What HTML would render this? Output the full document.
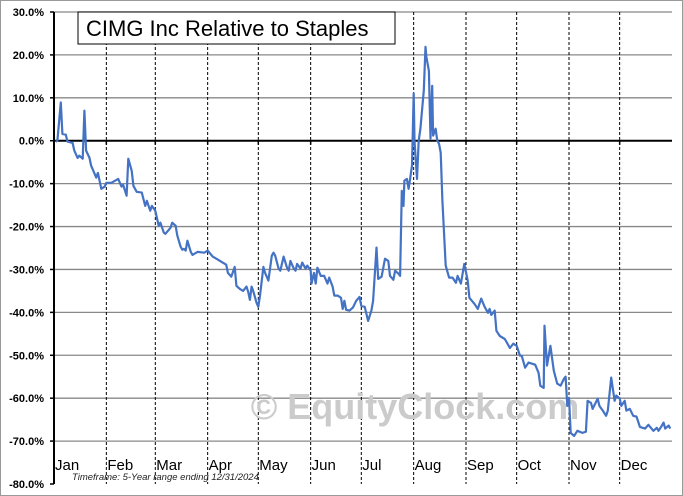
<!DOCTYPE html>
<html><head><meta charset="utf-8"><style>
html,body{margin:0;padding:0;background:#fff}
svg{display:block;font-family:"Liberation Sans",Arial,sans-serif}
</style></head><body>
<svg id="chart" width="683" height="496" viewBox="0 0 683 496" xmlns="http://www.w3.org/2000/svg">
<rect x="0.5" y="0.5" width="682" height="495" fill="#fff" stroke="#999"/>
<g id="grid"></g>
<g id="months"></g>
<text x="415" y="419" font-size="36" font-weight="bold" fill="#cbcbcb" text-anchor="middle">© EquityClock.com</text>
<g id="yaxis"></g>
<path id="line" fill="none" stroke="#4472C4" stroke-width="2.2" stroke-linejoin="round"/>
<rect x="78" y="12" width="317" height="32" fill="#fff" stroke="#000"/>
<text x="86" y="36" font-size="22" fill="#000">CIMG Inc Relative to Staples</text>
<text x="72" y="480" font-size="9.5" font-style="italic" fill="#222">Timeframe: 5-Year range ending 12/31/2024</text>
</svg>
<script>
const monthLabels=["Jan","Feb","Mar","Apr","May","Jun","Jul","Aug","Sep","Oct","Nov","Dec"];
const monthStartDays=[1,32,61,92,122,153,183,214,245,275,306,336];
const yTicks=[30,20,10,0,-10,-20,-30,-40,-50,-60,-70,-80];
const days=[2,3,5,6,8,9,12,13,15,16,18,19,20,22,23,26,27,29,31,32,35,39,41,42,44,45,47,48,50,53,55,56,58,59,61,63,64,66,67,70,71,73,74,76,77,78,79,80,82,83,86,90,92,95,98,100,103,104,106,108,109,111,113,115,116,117,118,119,121,122,123,125,126,128,130,131,132,134,135,137,139,140,141,143,144,145,147,148,150,151,153,153.5,155,156,157,159,161,163,164,166,167,169,171,172,173,174,176,178,180,182,183,185,187,189,190,192,193,195,197,199,200,202,203,205,206,207,208,208.5,210,211,212,213,214,214.5,216,217,218,220,221,221.5,223,224,225,225.5,227,228,229,230,231,233,235,237,239,240,242,244,246,247,250,252,254,256,258,259,260,262,263,265,268,271,273,275,277,278,280,282,286,288,289,291,291.5,293,295,297,299,301,303,304,305,306,307,309,311,314,316,317,319,320,323,324,326,328,329,331,333,334,336,337,339,340,342,344,346,348,351,353,356,358,359,361,362,363,365,366];
const values=[-0.2,0,8.9,1.6,1.4,-0.2,-0.5,-2.3,-4.0,-3.5,-4.2,7.0,-2.3,-4.0,-5.8,-8.6,-7.5,-11.2,-10.7,-9.8,-9.8,-8.9,-10.7,-10.3,-12.8,-4.2,-7.0,-10.5,-11.9,-12.1,-15.2,-14.0,-16.3,-15.2,-16.3,-19.8,-19.1,-21.4,-21.7,-20.3,-19.1,-19.8,-22.1,-24.7,-25.4,-25.2,-25.6,-23.3,-25.9,-26.6,-25.9,-26.1,-25.6,-27.0,-27.7,-28.2,-28.9,-30.8,-31.7,-29.4,-33.8,-34.5,-35.0,-34.0,-35.2,-37.1,-34.0,-35.0,-37.8,-38.7,-36.1,-29.4,-30.8,-32.6,-26.8,-26.1,-26.8,-29.8,-30.3,-27.0,-29.6,-30.3,-28.0,-29.8,-30.3,-28.7,-29.8,-28.4,-29.8,-29.1,-30.3,-33.3,-30.8,-33.3,-29.6,-31.5,-31.5,-33.3,-31.9,-34.0,-36.1,-36.1,-36.6,-39.2,-37.3,-39.4,-39.6,-38.9,-37.3,-36.4,-38.5,-38.7,-42.0,-39.6,-37.3,-24.9,-32.2,-31.7,-27.5,-28.0,-31.5,-32.4,-30.3,-31.0,-31.5,-11.7,-15.2,-9.3,-8.9,-11.2,-8.6,-5.8,11.0,0,-8.9,0,2.8,11.7,21.9,19.6,16.3,0.5,12.8,1.2,2.8,0,-0.7,-2.8,-14.0,-29.1,-31.9,-31.9,-33.1,-31.5,-33.3,-28.7,-32.6,-36.6,-38.0,-39.2,-36.8,-38.7,-40.1,-39.2,-40.6,-39.6,-44.3,-45.5,-46.2,-48.3,-47.3,-47.8,-50.1,-50.1,-52.9,-51.7,-52.2,-54.1,-57.1,-57.6,-43.1,-52.4,-47.8,-53.6,-56.6,-57.1,-55.5,-55.0,-61.8,-59.9,-68.1,-68.8,-67.6,-68.1,-67.8,-60.6,-61.1,-62.5,-60.1,-61.8,-62.9,-64.1,-62.9,-55.2,-60.6,-59.4,-60.1,-61.8,-60.6,-62.9,-62.5,-64.1,-64.3,-66.7,-67.1,-66.2,-67.6,-66.9,-67.6,-66.4,-65.7,-67.1,-66.4,-67.1];

const NS="http://www.w3.org/2000/svg";
const X0=54,X1=672,Y0=12,Y1=484,VMAX=30,VMIN=-80,DAYS=366;
function xScale(d){return X0+(d-1)/DAYS*(X1-X0);}
function yScale(v){return Y0+(VMAX-v)/(VMAX-VMIN)*(Y1-Y0);}
function mk(tag,attrs,parent){const e=document.createElementNS(NS,tag);for(const k in attrs)e.setAttribute(k,attrs[k]);parent.appendChild(e);return e;}
const grid=document.getElementById('grid'),months=document.getElementById('months'),yaxis=document.getElementById('yaxis');
yTicks.forEach(v=>{
  const y=yScale(v);
  if(v!==0&&v!==VMIN){
    const g=mk('line',{x1:X0,x2:X1,y1:y,y2:y,stroke:'#888','stroke-width':1.3},grid);
    
    
  }
  const t=mk('line',{x1:X0-4,x2:X0,y1:y,y2:y,stroke:'#000','stroke-width':1.5},yaxis);
  
  
  const l=mk('text',{x:X0-10,y:y+4,'font-size':11,'font-weight':'bold','text-anchor':'end',fill:'#000'},yaxis);
  l.textContent=v.toFixed(1)+'%';
  
  
});
monthStartDays.forEach((d,i)=>{
  const x=xScale(d);
  if(i>0){
    const g=mk('line',{x1:x,x2:x,y1:Y0,y2:Y1,stroke:'#000','stroke-width':1,'stroke-dasharray':'3,2'},months);
    
    
  }
  const l=mk('text',{x:x+1,y:470,'font-size':15,fill:'#000'},months);
  l.textContent=monthLabels[i];
  
  
});
const ax=mk('line',{x1:X0,x2:X0,y1:Y0,y2:Y1,stroke:'#000','stroke-width':2},yaxis);


const zl=mk('line',{x1:X0,x2:X1,y1:yScale(0),y2:yScale(0),stroke:'#000','stroke-width':2},yaxis);


monthStartDays.forEach(d=>{
  const tk=mk('line',{x1:xScale(d),x2:xScale(d),y1:yScale(0),y2:yScale(0)+4,stroke:'#000','stroke-width':1.5},yaxis);
  
  
});
document.getElementById('line').setAttribute('d',days.map((d,i)=>(i?'L':'M')+xScale(d).toFixed(1)+','+yScale(values[i]).toFixed(1)).join(''));
</script>
</body></html>
